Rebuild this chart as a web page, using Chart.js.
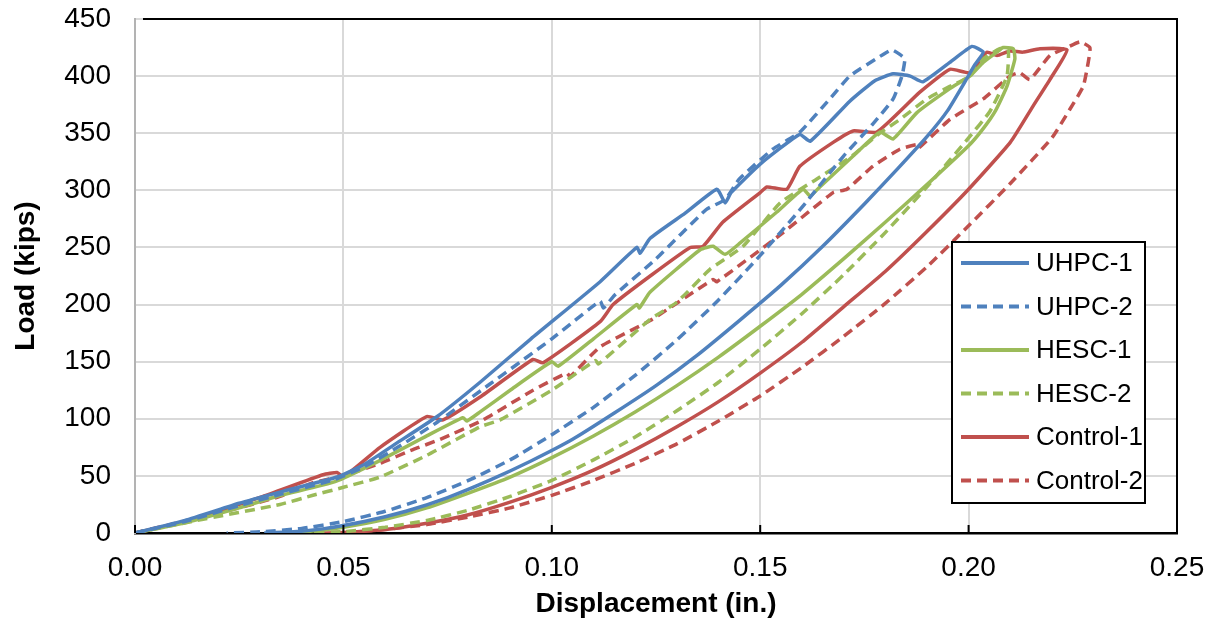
<!DOCTYPE html>
<html>
<head>
<meta charset="utf-8">
<script src="https://cdn.jsdelivr.net/npm/chart.js@4.4.0/dist/chart.umd.min.js"></script>
<style>
  html, body { margin: 0; padding: 0; background: #fff; }
</style>
</head>
<body>
<canvas id="loadChart" width="1211" height="627"></canvas>
<script>
// load-displacement loops (in., kips)
// each series: loading branch up to the peak, then the unloading branch back to zero load
const uhpc1Disp = [0, 0.012, 0.025, 0.035, 0.0485, 0.055, 0.0625, 0.0725, 0.0828, 0.095, 0.1116, 0.1204, 0.1212, 0.1236, 0.132, 0.1396, 0.1416, 0.143, 0.15, 0.1595, 0.162, 0.1715, 0.1775, 0.1819, 0.186, 0.189, 0.1955, 0.2008, 0.2035,
  0.2015, 0.1996, 0.195, 0.19, 0.183, 0.175, 0.165, 0.155, 0.145, 0.135, 0.125, 0.115, 0.105, 0.095, 0.085, 0.075, 0.065, 0.055, 0.045, 0.038, 0.031];
const uhpc1Load = [0, 11, 26, 36, 49, 60, 78, 102, 132, 170, 220, 250, 245, 258, 280, 301, 289, 298, 323, 349, 343, 378, 396, 402, 400, 395, 412, 426, 421,
  410, 398, 370, 347, 319, 288, 251, 217, 186, 156, 129, 105, 82, 63, 46, 31, 19, 10, 3.6, 1, 0];

const uhpc2Disp = [0, 0.012, 0.025, 0.035, 0.048, 0.055, 0.063, 0.0725, 0.085, 0.10, 0.1116, 0.1124, 0.115, 0.125, 0.137, 0.1416, 0.145, 0.153, 0.1595, 0.1667, 0.1715, 0.1795, 0.1816, 0.1835, 0.1847,
  0.184, 0.1819, 0.177, 0.17, 0.16, 0.15, 0.14, 0.13, 0.12, 0.11, 0.10, 0.09, 0.08, 0.07, 0.06, 0.05, 0.04, 0.03, 0.022];
const uhpc2Load = [0, 10, 24, 34, 47, 58, 75, 97, 130, 170, 203, 197, 208, 240, 283, 292, 310, 336, 351, 380, 400, 419, 423, 419, 415,
  400, 380, 358, 330, 285, 243, 204, 169, 138, 110, 86, 64, 46, 31, 19, 10, 4, 1, 0];

const hesc1Disp = [0, 0.012, 0.025, 0.035, 0.048, 0.058, 0.07, 0.0787, 0.0796, 0.0828, 0.09, 0.10, 0.1015, 0.11, 0.1204, 0.121, 0.1236, 0.1356, 0.1387, 0.1416, 0.1452, 0.154, 0.1603, 0.162, 0.1643, 0.1723, 0.1787, 0.1819, 0.1876, 0.1955, 0.2003, 0.2035, 0.2068, 0.2083, 0.2107, 0.2111,
  0.2092, 0.2065, 0.2035, 0.20, 0.19, 0.18, 0.17, 0.16, 0.15, 0.14, 0.13, 0.12, 0.11, 0.10, 0.09, 0.08, 0.07, 0.06, 0.05, 0.042, 0.0355];
const hesc1Load = [0, 9, 22, 33, 45, 62, 85, 101, 98, 106, 125, 150, 146, 170, 200, 197, 211, 248, 251, 244, 254, 281, 301, 295, 303, 330, 351, 345, 368, 389, 400, 412, 421, 425, 424, 415,
  391, 370, 354, 339, 305, 272, 240, 209, 181, 154, 129, 106, 85, 66, 49, 35, 22, 12, 5, 1.5, 0];

const hesc2Disp = [0, 0.0149, 0.0348, 0.0427, 0.05, 0.0588, 0.07, 0.0828, 0.0876, 0.10, 0.1105, 0.1112, 0.1236, 0.130, 0.138, 0.1459, 0.1548, 0.1636, 0.172, 0.1787, 0.1835, 0.19, 0.1955, 0.2003, 0.2035, 0.2075, 0.2095,
  0.2092, 0.2051, 0.20, 0.19, 0.18, 0.17, 0.16, 0.15, 0.14, 0.13, 0.12, 0.11, 0.10, 0.09, 0.08, 0.07, 0.06, 0.05, 0.04];
const hesc2Load = [0, 11, 25, 33, 40, 49, 68, 93, 99, 125, 151, 148, 187, 202, 231, 251, 289, 310, 330, 350, 362, 380, 391, 400, 415, 424, 424,
  400, 369, 346, 303, 263, 226, 192, 161, 132, 107, 84, 64, 46, 32, 20, 11, 5, 1.2, 0];

const control1Disp = [0, 0.0132, 0.0307, 0.0451, 0.0485, 0.05, 0.0588, 0.07, 0.0739, 0.0828, 0.0955, 0.0979, 0.1116, 0.1147, 0.1236, 0.1332, 0.1363, 0.141, 0.15, 0.1516, 0.1564, 0.1595, 0.1675, 0.1723, 0.178, 0.1883, 0.1955, 0.2003, 0.2044, 0.2068, 0.2099, 0.213, 0.2171, 0.2236,
  0.2195, 0.2155, 0.21, 0.20, 0.19, 0.18, 0.17, 0.16, 0.15, 0.14, 0.13, 0.12, 0.11, 0.10, 0.09, 0.08, 0.07, 0.06, 0.05, 0.045];
const control1Load = [0, 11, 32, 51, 53, 49, 75, 102, 99, 119, 152, 149, 185, 200, 225, 250, 251, 272, 298, 303, 301, 321, 342, 352, 351, 386, 406, 403, 421, 418, 422, 421, 424, 423,
  397, 374, 342, 301, 264, 229, 198, 167, 140, 115, 93, 73, 55, 40, 27, 16, 8.5, 3, 0.4, 0];

const control2Disp = [0, 0.0228, 0.0348, 0.0427, 0.05, 0.0588, 0.0667, 0.0732, 0.0835, 0.0955, 0.1036, 0.1044, 0.1116, 0.1236, 0.1387, 0.1396, 0.1555, 0.1675, 0.1708, 0.177, 0.1835, 0.1876, 0.188, 0.1955, 0.2035, 0.2099, 0.2123, 0.2147, 0.2195, 0.2236, 0.2267, 0.2291,
  0.2287, 0.2275, 0.2243, 0.22, 0.21, 0.20, 0.19, 0.18, 0.17, 0.16, 0.15, 0.14, 0.13, 0.12, 0.11, 0.10, 0.09, 0.08, 0.07, 0.06, 0.05, 0.04];
const control2Load = [0, 20, 32, 44, 50, 61, 73, 82, 99, 125, 140, 137, 163, 186, 222, 220, 263, 298, 301, 321, 336, 340, 337, 362, 380, 400, 403, 397, 418, 425, 430, 425,
  412, 391, 371, 346, 306, 269, 233, 201, 172, 145, 120, 98, 78, 61, 46, 33, 22, 14, 7.4, 3.1, 0.7, 0];

const seriesNames = ['UHPC-1', 'UHPC-2', 'HESC-1', 'HESC-2', 'Control-1', 'Control-2'];
const xTicks = [0, 0.05, 0.10, 0.15, 0.20, 0.25];
const yTicks = [0, 50, 100, 150, 200, 250, 300, 350, 400, 450];

const BLUE = '#4f81bd', GREEN = '#9bbb59', RED = '#c0504d';
const FONT = 'Liberation Sans, Arial, sans-serif';

function toPoints(xs, ys) {
  return xs.map((x, i) => ({ x: x, y: ys[i] }));
}

const seriesData = [
  [uhpc1Disp, uhpc1Load], [uhpc2Disp, uhpc2Load],
  [hesc1Disp, hesc1Load], [hesc2Disp, hesc2Load],
  [control1Disp, control1Load], [control2Disp, control2Load]
];
const seriesColors = [BLUE, BLUE, GREEN, GREEN, RED, RED];

const datasets = seriesData.map((s, i) => ({
  label: seriesNames[i],
  data: toPoints(s[0], s[1]),
  showLine: true,
  borderColor: seriesColors[i],
  backgroundColor: seriesColors[i],
  borderWidth: 3.5,
  borderDash: i % 2 === 1 ? [10, 6] : [],
  borderJoinStyle: 'round',
  pointRadius: 0,
  tension: 0.15
}));

// plot frame (black top/right edges) and the short inside tick marks on the x axis
const framePlugin = {
  id: 'frame',
  afterDatasetsDraw(chart) {
    const { ctx, chartArea: a, scales } = chart;
    ctx.save();
    ctx.strokeStyle = '#000';
    ctx.lineWidth = 2;
    ctx.beginPath();
    ctx.moveTo(a.left + 8, a.top);
    ctx.lineTo(a.right, a.top);
    ctx.lineTo(a.right, a.bottom);
    ctx.stroke();
    xTicks.forEach(t => {
      const px = scales.x.getPixelForValue(t);
      ctx.beginPath();
      ctx.moveTo(px, a.bottom);
      ctx.lineTo(px, a.bottom - 8);
      ctx.stroke();
    });
    ctx.restore();
  }
};

// boxed legend in the lower-right of the plot
const legendBox = {
  id: 'legendBox',
  afterDraw(chart) {
    const { ctx, chartArea: a } = chart;
    const w = 193, h = 261;
    const x0 = a.right - 32 - w, y0 = a.bottom - 30 - h;
    ctx.save();
    ctx.fillStyle = '#fff';
    ctx.fillRect(x0, y0, w, h);
    ctx.strokeStyle = '#000';
    ctx.lineWidth = 2;
    ctx.strokeRect(x0, y0, w, h);
    ctx.font = '26px ' + FONT;
    ctx.textBaseline = 'middle';
    chart.data.datasets.forEach((ds, i) => {
      const y = y0 + 21 + i * 43.5;
      ctx.strokeStyle = ds.borderColor;
      ctx.lineWidth = 4;
      ctx.setLineDash(ds.borderDash);
      ctx.beginPath();
      ctx.moveTo(x0 + 9, y);
      ctx.lineTo(x0 + 77, y);
      ctx.stroke();
      ctx.setLineDash([]);
      ctx.fillStyle = '#000';
      ctx.fillText(ds.label, x0 + 84, y + 1);
    });
    ctx.restore();
  }
};

new Chart(document.getElementById('loadChart'), {
  type: 'scatter',
  data: { datasets: datasets },
  options: {
    responsive: false,
    animation: false,
    layout: { padding: { top: 19, right: 34, left: 0, bottom: 0 } },
    plugins: {
      legend: { display: false },
      tooltip: { enabled: false }
    },
    scales: {
      x: {
        type: 'linear',
        min: 0,
        max: 0.25,
        afterBuildTicks: s => { s.ticks = xTicks.map(v => ({ value: v })); },
        afterFit: s => { s.height = 94; s.paddingLeft = 0; s.paddingRight = 0; },
        ticks: {
          color: '#000',
          font: { family: FONT, size: 28 },
          padding: 18,
          callback: v => v.toFixed(2)
        },
        grid: { color: '#d9d9d9', lineWidth: 2, drawTicks: false },
        border: { color: '#000', width: 2.5 },
        title: {
          display: true,
          text: 'Displacement (in.)',
          color: '#000',
          font: { family: FONT, size: 28, weight: 'bold' },
          padding: { top: 0, bottom: 6 }
        }
      },
      y: {
        min: 0,
        max: 450,
        afterBuildTicks: s => { s.ticks = yTicks.map(v => ({ value: v })); },
        afterFit: s => { s.width = 135; s.paddingTop = 0; s.paddingBottom = 0; },
        ticks: {
          color: '#000',
          font: { family: FONT, size: 28 },
          padding: 24
        },
        grid: { color: '#d9d9d9', lineWidth: 2, drawTicks: false },
        border: { color: '#b3b3b3', width: 2 },
        title: {
          display: true,
          text: 'Load (kips)',
          color: '#000',
          font: { family: FONT, size: 28, weight: 'bold' },
          padding: { top: 9, bottom: 0 }
        }
      }
    }
  },
  plugins: [framePlugin, legendBox]
});
</script>
</body>
</html>
